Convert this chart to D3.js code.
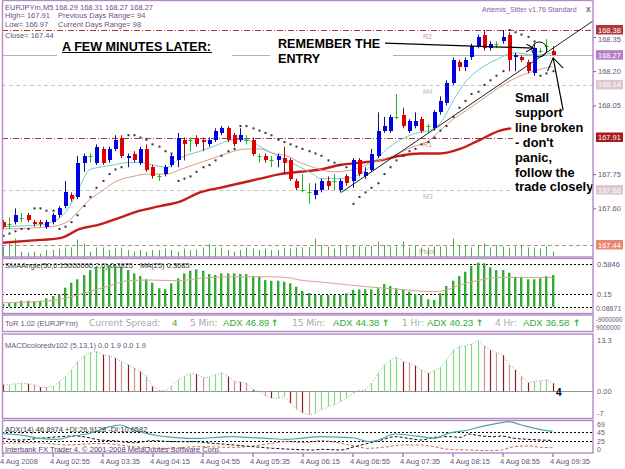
<!DOCTYPE html>
<html>
<head>
<meta charset="utf-8">
<script src="https://cdnjs.cloudflare.com/ajax/libs/d3/7.8.5/d3.min.js"></script>
<style>
  body { margin: 0; background: #fff; }
  svg { display: block; font-family: "Liberation Sans", Arial, sans-serif; }
</style>
</head>
<body>
<div id="chart"></div>
<script>
// ---- DATA (EURJPYm M5, 4 Aug 2008, one value per bar) ----
const open = [167.54,167.53,167.54,167.56,167.57,167.54,167.54,167.52,167.54,167.57,
167.61,167.66,167.65,167.80,167.83,167.80,167.86,167.81,167.86,167.91,
167.82,167.84,167.80,167.86,167.78,167.74,167.75,167.79,167.81,167.90,
167.90,167.91,167.90,167.88,167.90,167.93,167.95,167.92,167.90,167.90,
167.90,167.83,167.83,167.81,167.81,167.82,167.81,167.72,167.68,167.67,
167.66,167.68,167.72,167.72,167.68,167.74,167.72,167.81,167.74,167.77,
167.83,167.94,167.94,168.00,168.01,167.94,167.96,167.99,167.96,167.95,
168.02,168.06,168.15,168.24,168.22,168.26,168.31,168.36,168.30,168.32,
168.33,168.36,168.26,168.26,168.24,168.19,168.29,168.31,168.29]
const high = [167.55,167.56,167.60,167.58,167.58,167.55,167.55,167.55,167.58,167.61,
167.72,167.67,167.83,167.84,167.84,167.88,167.87,167.87,167.92,167.92,
167.84,167.85,167.87,167.88,167.79,167.75,167.79,167.84,167.93,167.91,
167.91,167.92,167.91,167.91,167.95,167.96,167.96,167.93,167.95,167.92,
167.91,167.84,167.84,167.83,167.84,167.87,167.82,167.73,167.75,167.71,
167.71,167.73,167.74,167.75,167.73,167.75,167.82,167.82,167.78,167.86,
168.02,168.00,168.01,168.10,168.04,167.99,168.02,168.00,167.97,168.03,
168.09,168.16,168.26,168.25,168.26,168.32,168.36,168.38,168.33,168.33,
168.38,168.37,168.28,168.27,168.25,168.32,168.30,168.34,168.31]
const low = [167.51,167.51,167.53,167.54,167.54,167.52,167.52,167.51,167.53,167.56,
167.60,167.63,167.64,167.76,167.80,167.79,167.79,167.80,167.85,167.82,
167.78,167.80,167.79,167.76,167.73,167.72,167.74,167.78,167.78,167.81,
167.85,167.87,167.85,167.87,167.89,167.92,167.89,167.87,167.89,167.88,
167.83,167.80,167.80,167.78,167.78,167.75,167.72,167.68,167.67,167.62,
167.64,167.67,167.68,167.68,167.67,167.70,167.69,167.74,167.73,167.76,
167.82,167.93,167.93,167.99,167.95,167.93,167.95,167.93,167.93,167.94,
168.01,168.05,168.14,168.20,168.20,168.25,168.30,168.29,168.29,168.30,
168.32,168.20,168.20,168.24,168.19,168.18,168.28,168.28,168.27]
const close = [167.52,167.53,167.57,167.56,167.55,167.53,167.53,167.54,167.57,167.60,
167.67,167.64,167.80,167.83,167.83,167.87,167.80,167.86,167.90,167.83,
167.83,167.81,167.86,167.77,167.74,167.74,167.78,167.83,167.91,167.88,
167.90,167.88,167.89,167.90,167.94,167.95,167.90,167.88,167.92,167.90,
167.84,167.83,167.81,167.81,167.83,167.80,167.73,167.69,167.68,167.67,
167.68,167.72,167.70,167.72,167.72,167.71,167.81,167.75,167.76,167.84,
167.94,167.96,168.00,168.00,167.96,167.98,167.98,167.94,167.96,168.02,
168.07,168.15,168.25,168.22,168.25,168.31,168.35,168.30,168.32,168.32,
168.35,168.25,168.27,168.25,168.20,168.30,168.29,168.31,168.27]
const volume = [21,31,37,11,9,11,7,14,14,17,
19,19,35,27,11,19,19,14,19,19,
14,11,14,11,14,14,17,14,11,17,
14,15,19,26,19,19,14,11,14,19,
17,14,17,14,14,19,17,19,19,20,
37,24,21,17,24,21,24,21,21,22,
31,24,21,21,31,19,24,19,19,21,
21,21,37,24,24,19,24,27,19,24,
21,19,21,24,19,19,17,21,11]
const sar = [167.48,167.49,167.50,167.51,167.51,167.60,167.60,167.59,167.59,167.51,
167.52,167.54,167.57,167.61,167.65,167.69,167.72,167.75,167.77,167.78,
167.92,167.92,167.91,167.90,167.88,167.87,167.85,167.84,167.72,167.73,
167.74,167.76,167.78,167.79,167.81,167.83,167.85,167.86,167.96,167.96,
167.95,167.94,167.93,167.92,167.90,167.89,167.88,167.87,167.86,167.85,
167.84,167.83,167.81,167.80,167.79,167.78,167.62,167.65,167.67,167.69,
167.71,167.75,167.78,167.81,167.83,167.85,167.86,167.88,167.89,167.91,
167.94,167.96,168.00,168.04,168.07,168.10,168.11,168.14,168.16,168.18,
168.20,168.38,168.37,168.36,168.35,168.33,168.18,168.19,168.20]

// moving averages: [bar, price]
const fastMA = [[0,167.52],[6.5,167.53],[9.2,167.56],[10.3,167.59],[11.9,167.67],[14,167.77],[15.6,167.78],
[17.7,167.79],[19.9,167.80],[22,167.80],[24.1,167.79],[26.3,167.78],[28.4,167.82],[31.6,167.85],[33.7,167.87],
[37,167.90],[39.1,167.90],[41.2,167.87],[43.3,167.84],[45.5,167.81],[47.6,167.78],[49.7,167.75],[50.8,167.73],
[54.5,167.73],[58.3,167.77],[61.5,167.86],[65.2,167.92],[69,167.95],[70.5,167.99],[72.1,168.07],[74.3,168.16],
[76.4,168.21],[79,168.25],[82,168.28],[85,168.27],[88,168.28]]
const midMA = [[0,167.51],[7.6,167.52],[10.3,167.54],[11.9,167.58],[14,167.64],[15.6,167.67],[18.3,167.72],
[20.9,167.74],[23.1,167.75],[26.3,167.75],[28.4,167.77],[31.6,167.80],[34.8,167.83],[37,167.85],[39.1,167.86],
[41.2,167.86],[43.3,167.84],[45.5,167.83],[47.6,167.80],[49.7,167.78],[50.8,167.77],[53,167.76],[56.1,167.77],
[59.3,167.80],[62.5,167.83],[65.7,167.87],[67.9,167.89],[70,167.94],[72.1,167.99],[74.3,168.03],[76.4,168.07],
[78.5,168.11],[80.7,168.15],[84.9,168.20],[88,168.22]]
const slowMA = [[0,167.45],[5,167.46],[9.2,167.47],[12.4,167.51],[15.6,167.53],[18.8,167.56],[22,167.59],
[25.2,167.61],[28.4,167.63],[31.6,167.67],[34.8,167.69],[38,167.71],[41.2,167.73],[44.4,167.75],[47.6,167.76],
[50.8,167.77],[54,167.79],[57.2,167.80],[60.4,167.81],[63.6,167.83],[66.8,167.84],[70,167.84],[73.2,167.86],
[76.4,167.90],[79.6,167.94],[81.4,167.95]]

const smaAngle = [0.03,0.04,0.046,0.069,0.069,0.058,0.069,0.098,0.125,0.145,
0.223,0.282,0.322,0.372,0.431,0.463,0.470,0.490,0.490,0.470,
0.431,0.392,0.360,0.322,0.282,0.216,0.204,0.274,0.333,0.392,
0.423,0.439,0.423,0.384,0.372,0.392,0.392,0.392,0.384,0.384,
0.360,0.352,0.313,0.305,0.305,0.293,0.274,0.234,0.185,0.160,
0.137,0.137,0.137,0.137,0.137,0.157,0.196,0.204,0.204,0.204,
0.216,0.266,0.243,0.216,0.196,0.176,0.148,0.137,0.086,0.078,
0.157,0.243,0.305,0.360,0.411,0.478,0.517,0.510,0.463,0.431,
0.431,0.399,0.352,0.352,0.322,0.322,0.333,0.360,0.372]
const smaAngleMA = [[0,0.046],[7.6,0.069],[13,0.157],[17.5,0.255],[20,0.305],[23.6,0.313],[27.9,0.305],
[31.6,0.333],[37,0.352],[42.3,0.352],[45.5,0.344],[47.6,0.313],[50.8,0.290],[53,0.274],[58.3,0.234],
[63.6,0.204],[68.9,0.176],[71,0.196],[73.2,0.255],[76.4,0.313],[79.6,0.344],[83.9,0.344],[88,0.344]]
const smaLevels = [0.5, 0.15, 0]

const macd = [1.46,1.46,1.7,1.86,1.7,1.46,0.9,0.9,1.05,2.27,
3.48,5.1,7.1,8.5,9.3,9.55,8.74,8.5,7.9,7.1,
6.3,5.5,4.7,3.48,1.05,0.1,0.05,1.05,2.67,3.48,
4.13,4.05,3.2,3.3,3.9,4.45,3.48,2.27,2.1,1.86,
0.24,-0.16,-1.2,-1.78,-1.78,-1.37,-3.0,-4.45,-5.35,-5.8,
-5.4,-4.6,-3.8,-3.4,-2.6,-1.78,-0.57,0.08,0.24,1.86,
4.3,6.3,7.5,8.2,7.1,6.7,6.06,5.1,4.3,4.9,
5.7,7.5,9.9,10.8,10.9,11.4,12.2,10.9,9.9,9.3,
8.7,6.3,5.1,3.5,2.0,2.3,2.4,2.7,1.86]
const macdState = ("rgggrprpgg" + "ggggggrprp" + "rprprpgggg" + "grpgggrprp" + "rpprggrprp" +
  "gggggggggg" + "ggggrprprg" + "gggggggprp" + "rprprgggr").split("")

const adx = [[0,42.7],[2.8,39.0],[6,31.6],[8.7,29.3],[11.3,36.7],[13.5,41.2],[15.6,50.1],[17.2,57.5],
[18.8,61.2],[21,50.1],[23,42.7],[25.2,36.7],[27.3,33.8],[29.5,31.6],[31.6,31.6],[34.3,33.8],[37,35.3],
[39,33.8],[42.3,31.6],[45.5,29.3],[47.6,31.6],[51,35.3],[54.2,33.8],[56.3,32.3],[58.5,24.1],[60.1,27.8],
[62.8,41.2],[64.9,39.0],[67,35.3],[69.1,31.6],[71.3,42.7],[74.5,50.1],[76.6,57.5],[79.8,66.4],[80.9,68.6],
[83,61.2],[85.2,53.8],[88,46.9]]
const plusDI = [[0,31.6],[2.8,27.8],[6,31.6],[9.2,35.3],[11.9,36.7],[13.5,33.8],[15.6,27.8],[17.7,26.3],
[21,21.8],[24.1,26.3],[27.3,24.1],[30.5,24.1],[33.7,20.4],[37,16.7],[40.1,13.0],[43.3,9.3],[46.5,7.1],
[49.7,5.6],[51,7.1],[54.2,5.6],[56.3,13.0],[58.5,20.4],[60.6,27.8],[62.8,35.3],[64.9,31.6],[67,27.8],
[69.1,33.8],[71.3,35.3],[73.4,33.8],[74.5,41.2],[76.6,36.7],[78.7,35.3],[79.8,36.7],[81.9,31.6],
[84.1,29.3],[86.2,27.8],[88,26.9]]
const minusDI = [[0,20.4],[5.5,21.8],[10.3,16.7],[15.6,20.4],[21,13.0],[26.3,9.3],[31.6,13.0],[37,11.5],
[40.1,14.5],[42.3,18.9],[45.5,24.1],[48.7,21.8],[50.8,26.5],[54.2,20.4],[56.3,14.5],[58.5,9.3],[61.7,13.0],
[63.8,16.7],[67,16.7],[69.1,13.0],[71.3,7.1],[74.5,5.6],[77.7,4.1],[79.8,5.6],[81.9,13.0],[84.1,14.5],
[86.2,11.5],[88,10.7]]
const adxLevels = [45, 25]

const tickBars = [0,8,16,24,32,40,48,56,64,72,80,88]
const tickLabels = ["4 Aug 2008","4 Aug 02:55","4 Aug 03:35","4 Aug 04:15","4 Aug 04:55","4 Aug 05:35",
  "4 Aug 06:15","4 Aug 06:55","4 Aug 07:35","4 Aug 08:15","4 Aug 08:55","4 Aug 09:35"]
const priceTicks = [168.35, 168.20, 168.05, 167.75, 167.60]

const levelNames = ["R2","M4","R1","M3","Pivot"]
const levelValues = [168.38, 168.14, 167.91, 167.68, 167.44]
const bidPrice = 168.27
const markerPrices = [168.38, 168.27, 168.14, 167.91, 167.68, 167.44]

// ---- LAYOUT ----
const W = 625, H = 469
const L = 2, R = 593
const purple = "#b48ac6", axisText = "#6e5080"

const x = d3.scaleLinear().domain([0, 88]).range([2.5, 552.5])
const yMain = d3.scaleLinear().domain([167.44, 168.38]).range([245, 30])
const yVol = d3.scaleLinear().domain([0, 40]).range([257, 237])
const ySma = d3.scaleLinear().domain([-0.0867, 0.5846]).range([314, 257])
const yMacd = d3.scaleLinear().domain([-6.6, 13.3]).range([418, 336])
const yAdx = d3.scaleLinear().domain([0, 69]).range([452.5, 421.5])
const px = i => Math.round(x(i)) + 0.5

const svg = d3.select("#chart").append("svg").attr("width", W).attr("height", H)
const defs = svg.append("defs")
defs.append("clipPath").attr("id", "clipMain").append("rect").attr("x", L).attr("y", 0).attr("width", R - L).attr("height", 257)
defs.append("marker").attr("id", "arrS").attr("markerUnits", "userSpaceOnUse")
  .attr("markerWidth", 10).attr("markerHeight", 10).attr("refX", 7).attr("refY", 4).attr("orient", "auto")
  .append("path").attr("d", "M0,0 L7,4 L0,8").attr("fill", "none").attr("stroke", "#000")
defs.append("marker").attr("id", "arrL").attr("markerUnits", "userSpaceOnUse")
  .attr("markerWidth", 14).attr("markerHeight", 18).attr("refX", 12).attr("refY", 8).attr("orient", "auto")
  .append("path").attr("d", "M0,0 L12,8 L0,16").attr("fill", "none").attr("stroke", "#000")

const txt = (g, s, tx, ty, o = {}) => g.append("text").attr("x", tx).attr("y", ty).text(s)
  .attr("font-size", o.size || 7.5).attr("fill", o.fill || axisText)
  .attr("font-family", o.family || null).attr("font-weight", o.weight || null)

// ---- MAIN PANE ----
const main = svg.append("g").attr("clip-path", "url(#clipMain)")

// pivot levels
const levelStyle = {
  R2: ["#a83a3a", "6,2,1,2"], M4: ["#c8c8c8", "4,3"], R1: ["#a83a3a", "6,2,1,2"],
  M3: ["#c8c8c8", "4,3"], Pivot: ["#c08878", "4,3"]
}
levelNames.forEach((n, k) => {
  const yy = Math.round(yMain(levelValues[k])) + 0.5
  main.append("line").attr("x1", L).attr("x2", R).attr("y1", yy).attr("y2", yy)
    .attr("stroke", levelStyle[n][0]).attr("stroke-dasharray", levelStyle[n][1])
  txt(main, n, n === "Pivot" ? 419 : 423, yy + 8.5, { size: 7, fill: n[0] === "R" ? "#d09090" : (n === "Pivot" ? "#d0a090" : "#b8b8b8") })
})
const bidY = Math.round(yMain(bidPrice)) + 0.5
main.append("line").attr("x1", L).attr("x2", R).attr("y1", bidY).attr("y2", bidY).attr("stroke", "#b0b0b0")

// volumes
main.selectAll("line.vol").data(volume).join("line").attr("class", "vol")
  .attr("x1", (d, i) => px(i)).attr("x2", (d, i) => px(i))
  .attr("y1", yVol(0)).attr("y2", d => yVol(d))
  .attr("stroke", "#48b048")

// moving averages
const maLine = d3.line().x(d => x(d[0])).y(d => yMain(d[1])).curve(d3.curveMonotoneX)
main.append("path").attr("d", maLine(slowMA)).attr("fill", "none").attr("stroke", "#c81a1a").attr("stroke-width", 2.4)
main.append("path").attr("d", maLine(midMA)).attr("fill", "none").attr("stroke", "#d89c84").attr("stroke-width", 1)
main.append("path").attr("d", maLine(fastMA)).attr("fill", "none").attr("stroke", "#6ccccc").attr("stroke-width", 1)

// candles
const bars = open.map((o, i) => ({ i, o, h: high[i], l: low[i], c: close[i] }))
const cColor = d => d.c > d.o ? "#0000e6" : d.c < d.o ? "#e00000" : "#22b522"
const wColor = d => d.c > d.o ? "#101070" : d.c < d.o ? "#901010" : "#22b522"
const cg = main.selectAll("g.candle").data(bars).join("g").attr("class", "candle")
cg.append("line").attr("x1", d => px(d.i)).attr("x2", d => px(d.i))
  .attr("y1", d => yMain(d.h)).attr("y2", d => yMain(d.l)).attr("stroke", wColor)
cg.filter(d => d.c !== d.o).append("rect")
  .attr("x", d => Math.round(x(d.i)) - 1.5).attr("width", 4)
  .attr("y", d => yMain(Math.max(d.o, d.c)))
  .attr("height", d => Math.max(1, Math.abs(yMain(d.o) - yMain(d.c))))
  .attr("fill", cColor).attr("shape-rendering", "crispEdges")
cg.filter(d => d.c === d.o).append("line")
  .attr("x1", d => px(d.i) - 2).attr("x2", d => px(d.i) + 2)
  .attr("y1", d => Math.round(yMain(d.c)) + 0.5).attr("y2", d => Math.round(yMain(d.c)) + 0.5)
  .attr("stroke", "#22b522")

// parabolic SAR
main.selectAll("rect.sar").data(sar).join("rect").attr("class", "sar")
  .attr("x", (d, i) => px(i) - 1).attr("y", d => yMain(d) - 1).attr("width", 2).attr("height", 2)
  .attr("fill", "#333")

// support trendline
main.append("line")
  .attr("x1", x(54.2)).attr("y1", yMain(167.67)).attr("x2", x(94.5)).attr("y2", yMain(168.42))
  .attr("stroke", "#222").attr("stroke-width", 1)

// annotation boxes + text
main.append("rect").attr("x", 57).attr("y", 37).attr("width", 175).attr("height", 23).attr("fill", "#fff")
main.append("rect").attr("x", 270).attr("y", 37).attr("width", 123).attr("height", 29).attr("fill", "#fff")
main.append("rect").attr("x", 513).attr("y", 89).attr("width", 80).attr("height", 106).attr("fill", "#fff")

const big = { size: 12.6, fill: "#000", weight: "bold" }
txt(main, "A FEW MINUTES LATER:", 62, 50.5, big)
main.append("line").attr("x1", 62).attr("x2", 212).attr("y1", 52.5).attr("y2", 52.5).attr("stroke", "#000").attr("stroke-width", 1.2)
txt(main, "REMEMBER THE", 278, 48, big)
txt(main, "ENTRY", 278, 62.5, big)
const note = ["Small", "support", "line broken", "- don't", "panic,", "follow the", "trade closely"]
note.forEach((s, k) => txt(main, s, 515, 102 + k * 14.9, { size: 12.8, fill: "#000", weight: "bold" }))

// arrows and circle
main.append("line").attr("x1", 385).attr("y1", yMain(168.323)).attr("x2", x(84.9)).attr("y2", yMain(168.301))
  .attr("stroke", "#000").attr("stroke-width", 1.2).attr("marker-end", "url(#arrS)")
main.append("circle").attr("cx", x(85.9)).attr("cy", yMain(168.295)).attr("r", 7.5)
  .attr("fill", "none").attr("stroke", "#000")
main.append("line").attr("x1", x(89.7)).attr("y1", yMain(168.03)).attr("x2", x(88.1)).attr("y2", yMain(168.258))
  .attr("stroke", "#000").attr("stroke-width", 1.2).attr("marker-end", "url(#arrL)")

// info labels
txt(svg, "EURJPYm,M5", 5, 9.5); txt(svg, "168.29 168.31 168.27 168.27", 55, 9.5)
txt(svg, "High= 167.91", 5, 17.5); txt(svg, "Previous Days Range= 94", 58, 17.5)
txt(svg, "Low= 166.97", 5, 27); txt(svg, "Current Days Range= 98", 58, 27)
txt(svg, "Close= 167.44", 5, 37.5)
txt(svg, "Artemis_Sitter v1.76 Standard", 482, 12, { size: 7.1, fill: "#8a5aa8" })
txt(svg, "x", 586, 12, { size: 8.5, fill: "#8a5aa8", weight: "bold" })

// price axis
const pAxis = svg.append("g").attr("transform", `translate(${R},0)`)
  .call(d3.axisRight(yMain).tickValues(priceTicks).tickSize(3).tickFormat(d3.format(".2f")))
pAxis.select(".domain").remove()
pAxis.selectAll(".tick line").attr("stroke", axisText)
pAxis.selectAll(".tick text").attr("font-size", 7.5).attr("fill", axisText).attr("font-family", null).attr("x", 5)
  .attr("dy", d => d === 168.35 ? "0.56em" : "0.32em")
const boxColors = ["#b03838", "#b47cca", "#dcc6d2", "#a81c1c", "#dcc6d2", "#e8866f"]
markerPrices.forEach((p, k) => {
  const yy = yMain(p)
  svg.append("rect").attr("x", 596).attr("y", yy - 5).attr("width", 27).attr("height", 9.5).attr("fill", boxColors[k])
  txt(svg, p.toFixed(2), 598, yy + 2.5, { fill: "#fff" })
})

// ---- SMA ANGLE PANE ----
const sma = svg.append("g")
smaLevels.forEach(v => {
  const yy = Math.round(ySma(v)) + 0.5
  sma.append("line").attr("x1", L).attr("x2", R).attr("y1", yy).attr("y2", yy)
    .attr("stroke", "#000").attr("stroke-dasharray", "2,2")
})
sma.selectAll("rect.sa").data(smaAngle).join("rect").attr("class", "sa")
  .attr("x", (d, i) => Math.round(x(i)) - 1).attr("width", 2.4)
  .attr("y", d => ySma(d)).attr("height", d => ySma(0) - ySma(d))
  .attr("fill", "#33aa33")
sma.append("path").attr("d", d3.line().x(d => x(d[0])).y(d => ySma(d[1])).curve(d3.curveMonotoneX)(smaAngleMA))
  .attr("fill", "none").attr("stroke", "#d4a494").attr("stroke-width", 1)
txt(sma, "SMAAngle(50,0.15000000,2,0) 0.3925", 5, 268, { fill: "#333" })
txt(sma, "MA(25) 0.3685", 140, 268, { fill: "#333" })
txt(svg, "0.5846", 597, ySma(0.5) + 3)
txt(svg, "0.15", 597, ySma(0.15) + 3)
txt(svg, "0.08671", 596, ySma(0) + 4, { size: 7 })

// ---- ToR STRIP ----
const tor = svg.append("g")
txt(tor, "ToR 1.02 (EURJPYm)", 5, 326)
const gray = { size: 9, fill: "#a8a8a8", family: "DejaVu Sans" }
const grn = { size: 9.6, fill: "#2fae2f" }
const arr = { size: 9, fill: "#2fae2f", family: "DejaVu Sans", weight: "bold" }
txt(tor, "Current Spread:", 89, 326, gray); txt(tor, "4", 172, 326, grn)
txt(tor, "5 Min:", 190, 326, gray); txt(tor, "ADX 46.89", 223, 326, grn); txt(tor, "\u2191", 271, 326, arr)
txt(tor, "15 Min:", 292, 326, gray); txt(tor, "ADX 44.38", 333, 326, grn); txt(tor, "\u2191", 382, 326, arr)
txt(tor, "1 Hr:", 402, 326, gray); txt(tor, "ADX 40.23", 427, 326, grn); txt(tor, "\u2191", 476, 326, arr)
txt(tor, "4 Hr:", 495, 326, gray); txt(tor, "ADX 36.58", 523, 326, grn); txt(tor, "\u2191", 573, 326, arr)
txt(svg, "-9000000", 596, 321.5, { size: 6.3 }); txt(svg, "9000000", 596, 329.5, { size: 6.3 })

// ---- MACD PANE ----
const mp = svg.append("g")
const zeroY = Math.round(yMacd(0)) + 0.5
mp.append("line").attr("x1", L).attr("x2", R).attr("y1", zeroY).attr("y2", zeroY).attr("stroke", "#959595")
const macdFill = { g: "#7fdc7f", r: "#8e1c1c", p: "#c99393" }
mp.selectAll("line.mh").data(macd).join("line").attr("class", "mh")
  .attr("x1", (d, i) => px(i)).attr("x2", (d, i) => px(i))
  .attr("y1", zeroY).attr("y2", d => yMacd(d))
  .attr("stroke", (d, i) => macdFill[macdState[i]]).attr("stroke-width", 1.2)
mp.append("path").attr("d", d3.line().x((d, i) => px(i)).y(d => yMacd(d))(macd))
  .attr("fill", "none").attr("stroke", "#a0a0a0").attr("stroke-dasharray", "1,2")
txt(mp, "MACDcoloredv102 (5,13,1) 0.0 1.9 0.0 1.9", 5, 347.5)
txt(mp, "4", 556, yMacd(0) + 5, { size: 10, fill: "#000", weight: "bold" })
txt(svg, "13.3", 597, yMacd(13.3) + 7)
txt(svg, "0.00", 597, yMacd(0) + 3)
txt(svg, "-7", 597, yMacd(-6.6) - 2)

// ---- ADX PANE ----
const ap = svg.append("g")
adxLevels.forEach(v => {
  const yy = Math.round(yAdx(v)) + 0.5
  ap.append("line").attr("x1", L).attr("x2", R).attr("y1", yy).attr("y2", yy)
    .attr("stroke", "#000").attr("stroke-dasharray", "2,2")
})
const adxLine = d3.line().x(d => x(d[0])).y(d => yAdx(d[1])).curve(d3.curveMonotoneX)
ap.append("path").attr("d", adxLine(minusDI)).attr("fill", "none").attr("stroke", "#c0704c").attr("stroke-dasharray", "3,2")
ap.append("path").attr("d", adxLine(plusDI)).attr("fill", "none").attr("stroke", "#111").attr("stroke-dasharray", "3,2")
ap.append("path").attr("d", adxLine(adx)).attr("fill", "none").attr("stroke", "#4fa6a6").attr("stroke-width", 1.2)
txt(ap, "ADX(14) 46.8974 +DI:26.9128 -DI:10.6582", 5, 431.5, { fill: "#333" })
txt(ap, "Interbank FX Trader 4, \u00a9 2001-2008 MetaQuotes Software Corp.", 5, 451.5, { fill: "#5a3a6a" })
txt(svg, "69", 597, yAdx(69) + 5.5, { size: 7 })
txt(svg, "45", 597, yAdx(45) + 2.5, { size: 7 })
txt(svg, "25", 597, 443.8, { size: 7 })
txt(svg, "0", 597, 452.2, { size: 7 })

// ---- TIME AXIS ----
const tAxis = svg.append("g").attr("transform", "translate(0,453)")
  .call(d3.axisBottom(x).tickValues(tickBars).tickSize(4).tickFormat((d, k) => tickLabels[k]))
tAxis.select(".domain").remove()
tAxis.selectAll(".tick line").attr("stroke", axisText)
tAxis.selectAll(".tick text").attr("text-anchor", "start").attr("dx", -3).attr("y", 6)
  .attr("font-size", 7.5).attr("fill", axisText).attr("font-family", null)

// ---- FRAMES ----
const panes = [[0.5, 257], [258.5, 313.5], [315, 331.5], [334, 418.5], [420.5, 453]]
panes.forEach(p => svg.append("rect").attr("x", L + 0.5).attr("y", p[0]).attr("width", R - L - 0.5).attr("height", p[1] - p[0])
  .attr("fill", "none").attr("stroke", purple).attr("stroke-width", 1.4))
</script>
</body>
</html>
